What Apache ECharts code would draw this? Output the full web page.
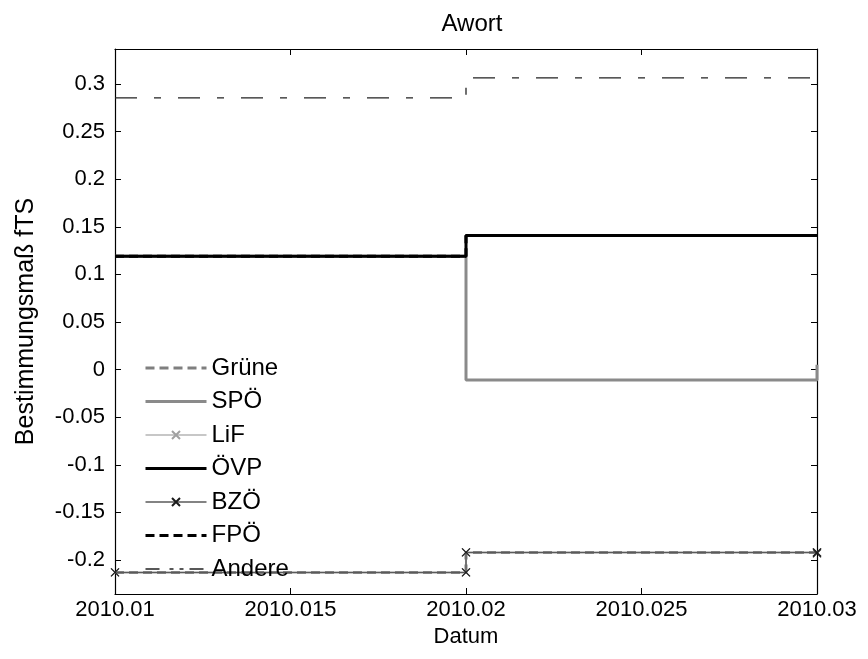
<!DOCTYPE html>
<html><head><meta charset="utf-8">
<script src="https://cdn.jsdelivr.net/npm/echarts@6/dist/echarts.min.js"></script>
<style>html,body{margin:0;background:#fff}#c{width:868px;height:659px}</style>
</head><body><div id="c"></div><script>
const dates = [2010.01, 2010.02, 2010.03];
const gruene = [-0.213, -0.192, -0.192];
const spoe = [0.119, -0.011, 0.005];
const lif = [-0.213, -0.192, -0.192];
const oevp = [0.119, 0.141, 0.141];
const bzoe = [-0.213, -0.192, -0.193];
const fpoe = [0.119, 0.141, 0.141];
const andere = [0.2855, 0.3065, 0.3065];
const seriesNames = ['Grüne', 'SPÖ', 'LiF', 'ÖVP', 'BZÖ', 'FPÖ', 'Andere'];
const xTicks = [2010.01, 2010.015, 2010.02, 2010.025, 2010.03];
const xTickLabels = ['2010.01', '2010.015', '2010.02', '2010.025', '2010.03'];
const yTicks = [-0.2, -0.15, -0.1, -0.05, 0, 0.05, 0.1, 0.15, 0.2, 0.25, 0.3];
const yTickLabels = ['-0.2', '-0.15', '-0.1', '-0.05', '0', '0.05', '0.1', '0.15', '0.2', '0.25', '0.3'];

function stairs(xs, ys) {
  const p = [];
  for (let i = 0; i < xs.length; i++) {
    if (i > 0) p.push([xs[i], ys[i - 1]]);
    p.push([xs[i], ys[i]]);
  }
  return p;
}
function lookup(ticks, labels, v) {
  let best = 0;
  for (let i = 1; i < ticks.length; i++) if (Math.abs(ticks[i] - v) < Math.abs(ticks[best] - v)) best = i;
  return labels[best];
}
const FONT = 'Liberation Sans, Arial, sans-serif';
const xPath = 'path://M0,0L10,10M10,0L0,10';

function lineSeries(name, ys, color, width, type, marker) {
  const s = {
    name, type: 'line', data: stairs(dates, ys),
    lineStyle: { color, width, type },
    itemStyle: { color },
    symbol: 'none', animation: false, silent: true
  };
  if (marker) {
    s.symbol = xPath;
    s.symbolSize = 8;
    s.showSymbol = true;
    s.itemStyle = { color: 'rgba(0,0,0,0)', borderColor: marker, borderWidth: 1.2 };
  }
  return s;
}

const xAxisBase = {
  type: 'value', min: 2010.01, max: 2010.03,
  axisLine: { show: true, onZero: false, lineStyle: { color: '#000', width: 1.2 } },
  axisTick: { show: true, inside: true, length: 6, customValues: xTicks, lineStyle: { color: '#000' } },
  splitLine: { show: false }
};
const yAxisBase = {
  type: 'value', min: -0.2357, max: 0.3368,
  axisLine: { show: true, onZero: false, lineStyle: { color: '#000', width: 1.2 } },
  axisTick: { show: true, inside: true, length: 6, customValues: yTicks, lineStyle: { color: '#000' } },
  splitLine: { show: false }
};

const seriesList = [
  lineSeries(seriesNames[0], gruene, '#7f7f7f', 3, [9, 5]),
  lineSeries(seriesNames[1], spoe, '#8a8a8a', 3, 'solid'),
  lineSeries(seriesNames[2], lif, '#b4b4b4', 1.5, 'solid', '#a0a0a0'),
  lineSeries(seriesNames[3], oevp, '#000000', 3, 'solid'),
  lineSeries(seriesNames[4], bzoe, '#5a5a5a', 1.5, 'solid', '#1a1a1a'),
  lineSeries(seriesNames[5], fpoe, '#000000', 3, [9, 5]),
  lineSeries(seriesNames[6], andere, '#222222', 1.3, [22, 17, 7, 17])
];
const hidden = { color: 'rgba(0,0,0,0)', borderColor: 'rgba(0,0,0,0)', borderWidth: 0, opacity: 0 };
const legendData = seriesList.map(s => {
  const item = { name: s.name, lineStyle: Object.assign({}, s.lineStyle) };
  if (s.name === 'Andere') item.lineStyle.type = [14, 10, 4, 6, 4, 6];
  if (s.symbol === 'none') item.itemStyle = hidden;
  return item;
});

const chart = echarts.init(document.getElementById('c'), null, { renderer: 'canvas' });
chart.setOption({
  backgroundColor: '#fff',
  animation: false,
  title: {
    text: 'Awort', left: 467, top: 7, textAlign: 'center',
    textStyle: { fontFamily: FONT, fontSize: 24, fontWeight: 'normal', color: '#000' }
  },
  grid: { left: 115, right: 51, top: 49, bottom: 65 },
  legend: {
    orient: 'vertical', left: 139, top: 351,
    itemWidth: 61, itemHeight: 10, itemGap: 9.5,
    textStyle: { fontFamily: FONT, fontSize: 24, lineHeight: 24, color: '#000' },
    data: legendData
  },
  xAxis: [
    Object.assign({}, xAxisBase, {
      position: 'bottom',
      name: 'Datum', nameLocation: 'middle', nameGap: 30,
      nameTextStyle: { fontFamily: FONT, fontSize: 22, color: '#000' },
      axisLabel: {
        customValues: xTicks, margin: 5,
        fontFamily: FONT, fontSize: 22, color: '#000',
        formatter: v => lookup(xTicks, xTickLabels, v)
      }
    }),
    Object.assign({}, xAxisBase, { position: 'top', axisLabel: { show: false } })
  ],
  yAxis: [
    Object.assign({}, yAxisBase, {
      position: 'left',
      name: 'Bestimmungsmaß fTS', nameLocation: 'middle', nameGap: 76,
      nameTextStyle: { fontFamily: FONT, fontSize: 25, color: '#000' },
      axisLabel: {
        customValues: yTicks, margin: 10,
        fontFamily: FONT, fontSize: 22, color: '#000',
        formatter: v => lookup(yTicks, yTickLabels, v)
      }
    }),
    Object.assign({}, yAxisBase, { position: 'right', axisLabel: { show: false } })
  ],
  series: seriesList
});
</script></body></html>
